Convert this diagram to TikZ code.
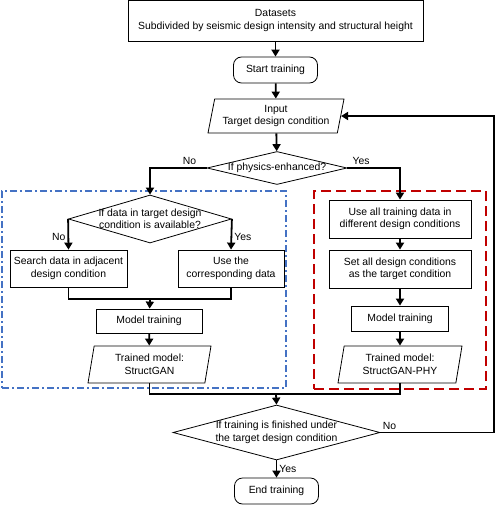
\documentclass[tikz,border=0pt]{standalone}
\usepackage{fontspec}
\setmainfont{Liberation Sans}
\usetikzlibrary{positioning,shapes.geometric,arrows.meta}
\definecolor{regblue}{RGB}{68,114,196}
\definecolor{regred}{RGB}{192,0,0}

\begin{document}
\begin{tikzpicture}[
  x=1pt,y=-1pt,
  font=\fontsize{10.4}{12.5}\selectfont,
  procbox/.style={rectangle,draw,line width=0.8pt,fill=white,inner sep=0pt,align=center,minimum width=#1,minimum height=37pt},
  termbox/.style={rectangle,draw,line width=0.8pt,rounded corners=8pt,fill=white,inner sep=0pt,minimum width=84pt,minimum height=26pt},
  iobox/.style={trapezium,trapezium left angle=73,trapezium right angle=107,trapezium stretches body,draw,line width=0.8pt,fill=white,inner sep=0pt,align=center,minimum width=#1,minimum height=36pt},
  decision/.style={diamond,draw,line width=0.8pt,fill=white,inner sep=0pt},
  flow/.style={->,>={Triangle[width=8pt,length=7pt]},line width=1.8pt},
  joinline/.style={line width=1.8pt},
  region/.style={rectangle,draw=#1,line width=2pt,inner sep=0pt},
  lab/.style={inner sep=2pt},
]
\useasboundingbox (0,0) rectangle (496,505);

% === Regions: plain and physics-enhanced ===
\node[region=regblue,dash pattern=on 7pt off 3pt on 2pt off 3pt,minimum width=284pt,minimum height=197pt] (plainreg) at (144,289.5) {};
\node[region=regred,dash pattern=on 10pt off 5pt,minimum width=172pt,minimum height=198pt] (phyreg) at (400,290) {};

% === Top: data and input ===
\node[procbox=295pt,minimum height=41pt] (data) at (275.5,20.5) {Datasets\\Subdivided by seismic design intensity and structural height};
\node[termbox] (start) at (275.5,70) {Start training};
\node[iobox=136pt,minimum height=34pt] (inp) at (276,116) {Input\\Target design condition};
\node[decision,minimum width=140pt,minimum height=33pt,label={center:If physics-enhanced?}] (phys) at (277,168) {};

\draw[flow] (data) -- (start);
\draw[flow] (start) -- (inp);
\draw[flow] (inp) -- (phys);

% === Left branch: StructGAN ===
\node[decision,minimum width=163pt,minimum height=48pt,label={[align=center]center:If data in target design\\condition is available?}] (chk) at (150,219) {};
\node[procbox=117pt] (search) at (68.5,268.5) {Search data in adjacent\\design condition};
\node[procbox=106pt] (usedata) at (231,268.5) {Use the\\corresponding data};
\coordinate (mergeL) at (150,299);
\node[procbox=106pt,minimum height=24pt] (trainL) at (149,321) {Model training};
\node[iobox=123pt,minimum height=37pt] (modelL) at (149.5,364.5) {Trained model:\\StructGAN};

\draw[flow] (phys.west) -| node[lab,above,pos=0.15] {No} (chk.north);
\draw[flow] (chk.west) -- node[lab,left,pos=0.6] {No} (search.north);
\draw[flow] (chk.east) -- node[lab,right,pos=0.6] {Yes} (usedata.north);
\draw[joinline] (search.south) |- (mergeL) -| (usedata.south);
\draw[flow] (mergeL) -- (trainL);
\draw[flow] (trainL) -- (modelL);

% === Right branch: StructGAN-PHY ===
\node[procbox=142pt,minimum height=38pt] (useall) at (400,219) {Use all training data in\\different design conditions};
\node[procbox=142pt,minimum height=38pt] (setall) at (400,269) {Set all design conditions\\as the target condition};
\node[procbox=97pt,minimum height=25pt] (trainR) at (400,318.5) {Model training};
\node[iobox=124pt,minimum height=37pt] (modelR) at (400,364.5) {Trained model:\\StructGAN-PHY};

\draw[flow] (phys.east) -| node[lab,above,pos=0.13] {Yes} (useall.north);
\draw[flow] (useall) -- (setall);
\draw[flow] (setall) -- (trainR);
\draw[flow] (trainR) -- (modelR);

% === Bottom: check and loop back ===
\coordinate (mergeB) at (276,394);
\coordinate (loopx) at (494,0);
\node[decision,minimum width=207pt,minimum height=55pt,label={[align=center]center:If training is finished under\\the target design condition}] (fin) at (276.5,432.5) {};
\node[termbox] (stop) at (276.5,491) {End training};

\draw[joinline] (modelL.south) |- (mergeB) -| (modelR.south);
\draw[flow] (mergeB) -- (fin.north);
\draw[flow] (fin.south) -- node[lab,right] {Yes} (stop);
\draw[flow] (fin.east) -- node[lab,above,pos=0.08] {No} (fin.east -| loopx) |- (inp.east);

\end{tikzpicture}
\end{document}
